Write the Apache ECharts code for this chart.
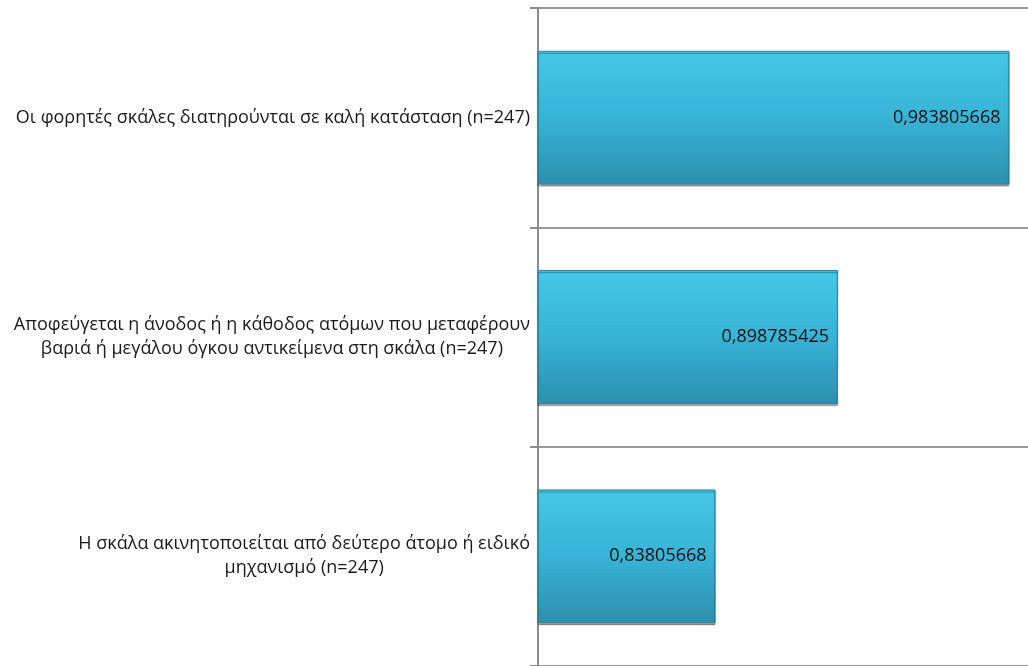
<!DOCTYPE html>
<html>
<head>
<meta charset="utf-8">
<script src="https://cdn.jsdelivr.net/npm/echarts@6/dist/echarts.min.js"></script>
<style>
  html, body { margin: 0; padding: 0; background: #fff; }
  #main { width: 1028px; height: 666px; }
</style>
</head>
<body>
<div id="main"></div>
<script>
// κατηγορίες (από πάνω προς τα κάτω)
const categories = [
  'Οι φορητές σκάλες διατηρούνται σε καλή κατάσταση (n=247)',
  'Αποφεύγεται η άνοδος ή η κάθοδος ατόμων που μεταφέρουν\nβαριά ή μεγάλου όγκου αντικείμενα στη σκάλα (n=247)',
  'Η σκάλα ακινητοποιείται από δεύτερο άτομο ή ειδικό\nμηχανισμό (n=247)'
];
const values = [0.983805668, 0.898785425, 0.83805668];

const chart = echarts.init(document.getElementById('main'));

const option = {
  animation: false,
  grid: { left: 538, top: 8, bottom: 0, right: 0 },
  xAxis: {
    type: 'value',
    min: 0.75,
    max: 0.993,
    axisLabel: { show: false },
    axisLine: { show: false },
    axisTick: { show: false },
    splitLine: { show: false }
  },
  yAxis: {
    type: 'category',
    inverse: true,
    data: categories,
    axisLine: { show: true, lineStyle: { color: '#8c8c8c', width: 2 } },
    axisTick: { show: true, length: 8, lineStyle: { color: '#8c8c8c', width: 2 } },
    splitLine: { show: true, lineStyle: { color: '#9a9a9a', width: 2 } },
    axisLabel: {
      margin: 8,
      align: 'right',
      // κάθε γραμμή κεντραρισμένη μέσα στο μπλοκ
      formatter: v => v.split('\n').map(s => '{c|' + s + '}').join('\n'),
      rich: {
        c: {
          align: 'center',
          color: '#1a1a1a',
          fontFamily: 'Open Sans',
          fontSize: 18,
          lineHeight: 24
        }
      }
    }
  },
  series: [{
    type: 'bar',
    data: values,
    barWidth: '61%',
    itemStyle: {
      color: new echarts.graphic.LinearGradient(0, 0, 0, 1, [
        { offset: 0, color: '#45c8e8' },
        { offset: 0.5, color: '#37b3d6' },
        { offset: 1, color: '#2d8fae' }
      ]),
      borderColor: '#2b84a0',
      borderWidth: 1,
      shadowColor: 'rgba(0,0,0,0.35)',
      shadowOffsetY: 2,
      shadowBlur: 1
    },
    label: {
      show: true,
      position: 'insideRight',
      distance: 9,
      color: '#111',
      fontFamily: 'Open Sans',
      fontSize: 18,
      formatter: p => String(p.value).replace('.', ',')
    }
  }]
};

chart.setOption(option);
</script>
</body>
</html>
